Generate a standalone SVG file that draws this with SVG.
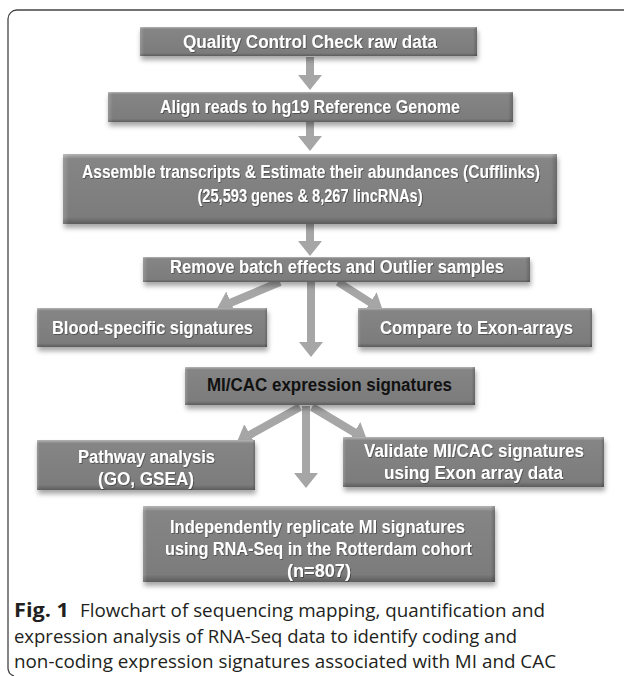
<svg xmlns="http://www.w3.org/2000/svg" width="624" height="676" viewBox="0 0 624 676">
<defs>
<linearGradient id="gv" x1="0" y1="0" x2="0" y2="1">
<stop offset="0" stop-color="#b4b4b4"/>
<stop offset="0.07" stop-color="#858585"/>
<stop offset="0.9" stop-color="#7c7c7c"/>
<stop offset="1" stop-color="#5c5c5c"/>
</linearGradient>
<linearGradient id="gh" x1="0" y1="0" x2="1" y2="0">
<stop offset="0" stop-color="#ffffff" stop-opacity="0.18"/>
<stop offset="0.012" stop-color="#ffffff" stop-opacity="0"/>
<stop offset="0.988" stop-color="#000000" stop-opacity="0"/>
<stop offset="1" stop-color="#000000" stop-opacity="0.2"/>
</linearGradient>
<filter id="sh" x="-10%" y="-20%" width="120%" height="160%">
<feDropShadow dx="1" dy="4" stdDeviation="2.5" flood-color="#000" flood-opacity="0.35"/>
</filter>
<filter id="ts" x="-5%" y="-30%" width="110%" height="160%">
<feDropShadow dx="0.8" dy="0.8" stdDeviation="0.6" flood-color="#000" flood-opacity="0.45"/>
</filter>
<marker id="ah" viewBox="0 -12 15 24" refX="1" refY="0" markerWidth="15" markerHeight="24" markerUnits="userSpaceOnUse" orient="auto">
<path d="M0,-12 L15,0 L0,12 z" fill="#a6a6a6"/>
</marker>
</defs>
<style>
.bx{fill:url(#gv);filter:url(#sh)}
.ov{fill:url(#gh)}
.t{font-family:"Liberation Sans",Arial,sans-serif;font-weight:bold;font-size:17.5px;fill:#ffffff;text-anchor:middle;filter:url(#ts)}
.tk{fill:#111111;filter:none}
.cn line{stroke:#a6a6a6;stroke-width:8;marker-end:url(#ah)}
.cap{font-family:"Open Sans","Noto Sans",sans-serif;font-size:18px;fill:#231f20}
</style>
<path d="M624,10 H17 A9,9 0 0 0 8,19 V667 A9,9 0 0 0 14,676" fill="none" stroke="#444" stroke-width="1.3"/>
<g id="connectors" class="cn">
<line x1="310" y1="57" x2="310" y2="76"/>
<line x1="310" y1="122" x2="310" y2="137"/>
<line x1="310" y1="224" x2="310" y2="242"/>
<line x1="280" y1="282" x2="230" y2="303"/>
<line x1="311" y1="281" x2="311" y2="343"/>
<line x1="338" y1="282" x2="371" y2="303"/>
<line x1="300" y1="407" x2="249.2" y2="435.2"/>
<line x1="306" y1="406" x2="306" y2="474"/>
<line x1="312" y1="407" x2="355" y2="432.8"/>
</g>
<g id="n1"><rect class="bx" x="140" y="27" width="337" height="29"/><rect class="ov" x="140" y="27" width="337" height="29"/><text class="t" x="310" y="48" textLength="254" lengthAdjust="spacingAndGlyphs">Quality Control Check raw data</text></g>
<g id="n2"><rect class="bx" x="108" y="92" width="405" height="30"/><rect class="ov" x="108" y="92" width="405" height="30"/><text class="t" x="310" y="113" textLength="300" lengthAdjust="spacingAndGlyphs">Align reads to hg19 Reference Genome</text></g>
<g id="n3"><rect class="bx" x="63" y="154" width="494" height="70"/><rect class="ov" x="63" y="154" width="494" height="70"/><text class="t" x="311" y="178" textLength="458" lengthAdjust="spacingAndGlyphs">Assemble transcripts &amp; Estimate their abundances (Cufflinks)</text><text class="t" x="310" y="202" textLength="225" lengthAdjust="spacingAndGlyphs">(25,593 genes &amp; 8,267 lincRNAs)</text></g>
<g id="n4"><rect class="bx" x="143" y="257" width="387" height="25"/><rect class="ov" x="143" y="257" width="387" height="25"/><text class="t" x="337" y="273" textLength="334" lengthAdjust="spacingAndGlyphs">Remove batch effects and Outlier samples</text></g>
<g id="n5"><rect class="bx" x="37" y="308" width="230" height="39"/><rect class="ov" x="37" y="308" width="230" height="39"/><text class="t" x="152.5" y="334" textLength="201" lengthAdjust="spacingAndGlyphs">Blood-specific signatures</text></g>
<g id="n6"><rect class="bx" x="358" y="308" width="234" height="39"/><rect class="ov" x="358" y="308" width="234" height="39"/><text class="t" x="476.5" y="334" textLength="193" lengthAdjust="spacingAndGlyphs">Compare to Exon-arrays</text></g>
<g id="n7"><rect class="bx" x="185" y="367" width="290" height="38"/><rect class="ov" x="185" y="367" width="290" height="38"/><text class="t tk" x="329.5" y="391" textLength="245" lengthAdjust="spacingAndGlyphs">MI/CAC expression signatures</text></g>
<g id="n8"><rect class="bx" x="37" y="440" width="218" height="50"/><rect class="ov" x="37" y="440" width="218" height="50"/><text class="t" x="146.5" y="463" textLength="137" lengthAdjust="spacingAndGlyphs">Pathway analysis</text><text class="t" x="146" y="485" textLength="96" lengthAdjust="spacingAndGlyphs">(GO, GSEA)</text></g>
<g id="n9"><rect class="bx" x="343" y="437" width="261" height="50"/><rect class="ov" x="343" y="437" width="261" height="50"/><text class="t" x="474" y="457" textLength="220" lengthAdjust="spacingAndGlyphs">Validate MI/CAC signatures</text><text class="t" x="473.5" y="479" textLength="179" lengthAdjust="spacingAndGlyphs">using Exon array data</text></g>
<g id="n10"><rect class="bx" x="143" y="506" width="352" height="76"/><rect class="ov" x="143" y="506" width="352" height="76"/><text class="t" x="317.5" y="533" textLength="295" lengthAdjust="spacingAndGlyphs">Independently replicate MI signatures</text><text class="t" x="318.5" y="555" textLength="307" lengthAdjust="spacingAndGlyphs">using RNA-Seq in the Rotterdam cohort</text><text class="t" x="319" y="577" textLength="64" lengthAdjust="spacingAndGlyphs">(n=807)</text></g>
<g id="caption">
<text class="cap" x="14" y="617"><tspan font-weight="bold" font-size="19.5px" textLength="55" lengthAdjust="spacingAndGlyphs">Fig. 1</tspan><tspan x="80" textLength="465" lengthAdjust="spacingAndGlyphs">Flowchart of sequencing mapping, quantification and</tspan></text>
<text class="cap" x="14" y="643" textLength="503" lengthAdjust="spacingAndGlyphs">expression analysis of RNA-Seq data to identify coding and</text>
<text class="cap" x="14" y="668" textLength="542" lengthAdjust="spacingAndGlyphs">non-coding expression signatures associated with MI and CAC</text>
</g>
</svg>
